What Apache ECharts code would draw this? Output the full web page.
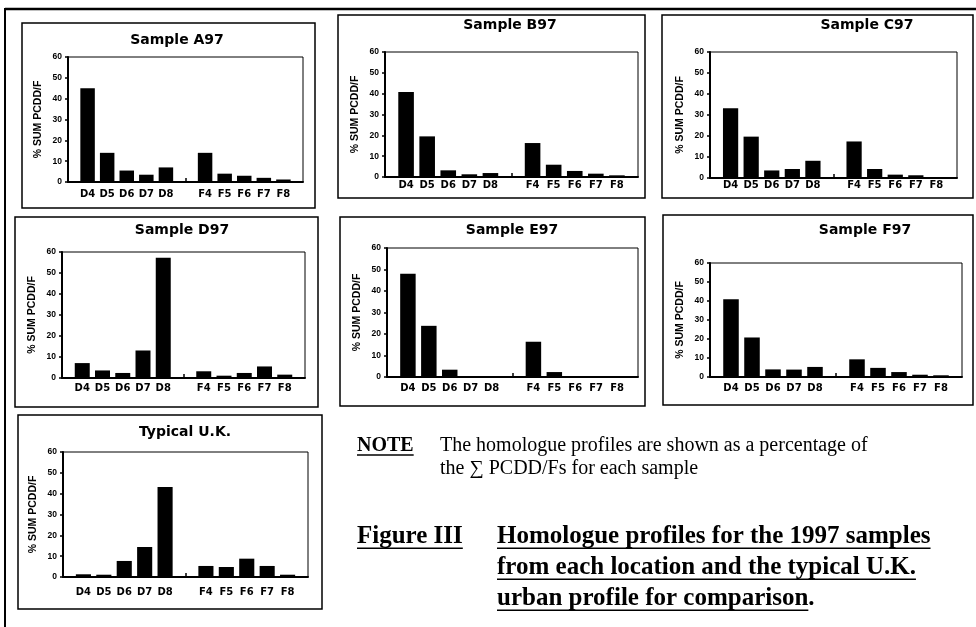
<!DOCTYPE html>
<html>
<head>
<meta charset="utf-8">
<script src="https://cdn.jsdelivr.net/npm/echarts@6/dist/echarts.min.js"></script>
<style>
html,body{margin:0;padding:0;background:#fff;}
#chart{width:976px;height:627px;}
</style>
</head>
<body>
<div id="chart"></div>
<script>
// ---- data ----
const axisCategories = ['', 'D4', 'D5', 'D6', 'D7', 'D8', ' ', 'F4', 'F5', 'F6', 'F7', 'F8', '  '];
const yTicks = [0, 10, 20, 30, 40, 50, 60];
const yAxisTitle = '% SUM PCDD/F';
const panelTitles = ['Sample A97', 'Sample B97', 'Sample C97', 'Sample D97', 'Sample E97', 'Sample F97', 'Typical U.K.'];
const sampleA97 = [null, 45, 14, 5.5, 3.5, 7, null, 14, 4, 3, 2, 1.2, null];
const sampleB97 = [null, 40.8, 19.5, 3.2, 1.3, 1.9, null, 16.3, 5.9, 2.9, 1.6, 0.8, null];
const sampleC97 = [null, 33.2, 19.7, 3.6, 4.3, 8.2, null, 17.4, 4.3, 1.6, 1.3, 0.3, null];
const sampleD97 = [null, 7.1, 3.6, 2.4, 13.1, 57.3, null, 3.2, 1.1, 2.4, 5.5, 1.6, null];
const sampleE97 = [null, 48, 23.8, 3.4, 0.3, 0.3, null, 16.4, 2.3, 0.2, 0.3, 0.2, null];
const sampleF97 = [null, 40.9, 20.8, 4, 3.9, 5.3, null, 9.3, 4.8, 2.6, 1.2, 0.9, null];
const typicalUK = [null, 1.3, 1.1, 7.7, 14.4, 43.2, null, 5.3, 4.8, 8.8, 5.3, 1.1, null];
const noteLabel = 'NOTE';
const noteLines = ['The homologue profiles are shown as a percentage of', 'the \u2211 PCDD/Fs for each sample'];
const figureLabel = 'Figure III';
const figureLines = ['Homologue profiles for the 1997 samples', 'from each location and the typical U.K.', 'urban profile for comparison'];

const seriesValues = [sampleA97, sampleB97, sampleC97, sampleD97, sampleE97, sampleF97, typicalUK];

// ---- layout (positions / styles only) ----
const layout = [
  {grid: [68, 57, 235, 125], box: [22, 23, 293, 185], title: [177, 40], xm: 7},
  {grid: [385, 52, 253, 125], box: [338, 15, 307, 183], title: [510, 25], xm: 3},
  {grid: [710, 52, 247, 126], box: [662, 15, 311, 183], title: [867, 25], xm: 2},
  {grid: [62, 252, 243, 126], box: [15, 217, 303, 190], title: [182, 230], xm: 5},
  {grid: [387, 248, 251, 129], box: [340, 217, 305, 189], title: [512, 230], xm: 6},
  {grid: [710, 263, 252, 114], box: [663, 215, 310, 190], title: [865, 230], xm: 6},
  {grid: [63, 452, 245, 125], box: [18, 415, 304, 194], title: [185, 432], xm: 10}
];

const chart = echarts.init(document.getElementById('chart'), null, {renderer: 'canvas'});

const grids = [], xAxes = [], yAxes = [], series = [], graphics = [];

const mctx = document.createElement('canvas').getContext('2d');
function textW(font, t) { mctx.font = font; return mctx.measureText(t).width; }

layout.forEach((L, i) => {
  grids.push({left: L.grid[0], top: L.grid[1], width: L.grid[2], height: L.grid[3],
    show: true, borderColor: '#000', borderWidth: 1, containLabel: false});
  xAxes.push({type: 'category', gridIndex: i, data: axisCategories, boundaryGap: false,
    axisLine: {lineStyle: {color: '#000', width: 2}},
    axisTick: {show: true, inside: true, length: 4, interval: (idx) => idx === 6, lineStyle: {color: '#000', width: 1.5}},
    axisLabel: {interval: 0, color: '#000', fontFamily: 'DejaVu Sans', fontWeight: 'bold', fontSize: 10, margin: L.xm},
    splitLine: {show: false}});
  yAxes.push({type: 'value', gridIndex: i, min: yTicks[0], max: yTicks[yTicks.length - 1], interval: 10,
    name: yAxisTitle, nameLocation: 'middle', nameRotate: 90, nameGap: 24,
    nameTextStyle: {color: '#000', fontFamily: 'Liberation Sans', fontWeight: 'bold', fontSize: 10.5},
    axisLine: {show: true, lineStyle: {color: '#000', width: 2}},
    axisTick: {show: true, length: 3, lineStyle: {color: '#000', width: 1.5}},
    axisLabel: {color: '#000', fontFamily: 'Liberation Sans', fontWeight: 'bold', fontSize: 8.5, margin: 6},
    splitLine: {show: false}});
  series.push({type: 'bar', xAxisIndex: i, yAxisIndex: i, data: seriesValues[i], barWidth: '74%',
    itemStyle: {color: '#000'}, silent: true, animation: false});
  graphics.push({type: 'rect', shape: {x: L.box[0], y: L.box[1], width: L.box[2], height: L.box[3]},
    style: {fill: 'none', stroke: '#000', lineWidth: 1.5}, silent: true});
  graphics.push({type: 'text', x: L.title[0], y: L.title[1],
    style: {text: panelTitles[i], font: 'bold 14px "DejaVu Sans"', fill: '#000', textAlign: 'center', textVerticalAlign: 'middle'}});
});

// outer frame lines
graphics.push({type: 'line', shape: {x1: 5, y1: 9, x2: 976, y2: 9}, style: {stroke: '#000', lineWidth: 2.5}});
graphics.push({type: 'line', shape: {x1: 5, y1: 8, x2: 5, y2: 627}, style: {stroke: '#000', lineWidth: 2}});

// note and figure caption (y = vertical centre of the line)
const serif = '"Liberation Serif"';
const noteSize = 20, figSize = 25;
const fNoteB = 'bold ' + noteSize + 'px ' + serif;
const fNote = noteSize + 'px ' + serif;
const fFig = 'bold ' + figSize + 'px ' + serif;
function addText(t, x, y, font, size, underline) {
  graphics.push({type: 'text', x: x, y: y, style: {text: t, font: font, fill: '#000', textAlign: 'left', textVerticalAlign: 'middle'}});
  if (underline) {
    const w = textW(font, t);
    const uy = y + size * 0.45;
    graphics.push({type: 'line', shape: {x1: x, y1: uy, x2: x + w, y2: uy}, style: {stroke: '#000', lineWidth: 1.6}});
  }
  return textW(font, t);
}
addText(noteLabel, 357, 446, fNoteB, noteSize, true);
addText(noteLines[0], 440, 446, fNote, noteSize, false);
addText(noteLines[1], 440, 469, fNote, noteSize, false);
addText(figureLabel, 357, 537, fFig, figSize, true);
addText(figureLines[0], 497, 537, fFig, figSize, true);
addText(figureLines[1], 497, 568, fFig, figSize, true);
const w3 = addText(figureLines[2], 497, 599, fFig, figSize, true);
addText('.', 497 + w3, 599, fFig, figSize, false);

chart.setOption({
  animation: false,
  backgroundColor: '#fff',
  grid: grids, xAxis: xAxes, yAxis: yAxes, series: series,
  graphic: graphics
});
</script>
</body>
</html>
